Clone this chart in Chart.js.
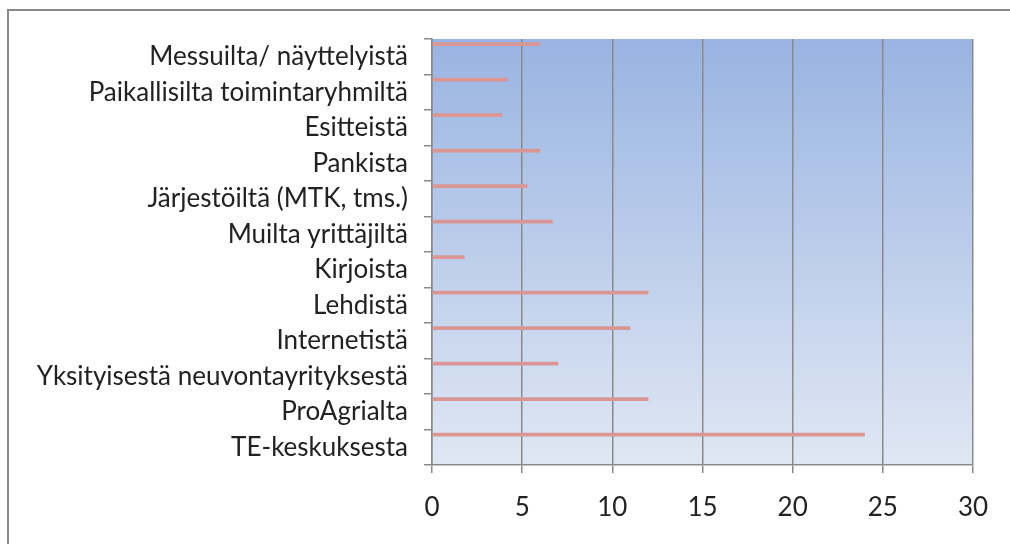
<!DOCTYPE html>
<html>
<head>
<meta charset="utf-8">
<script src="https://cdn.jsdelivr.net/npm/chart.js@4/dist/chart.umd.min.js"></script>
<style>
  html, body { margin: 0; padding: 0; background: #fff; overflow: hidden; }
  #wrap { position: relative; width: 1010px; height: 544px; }
  #frame { position: absolute; left: 7px; top: 9px; width: 1100px; height: 600px; border: 2px solid #8a8a8a; }
  #chart { position: absolute; left: 0; top: 0; }
</style>
</head>
<body>
<div id="wrap">
  <div id="frame"></div>
  <canvas id="chart" width="1010" height="544"></canvas>
</div>
<script>
const sources = [
  'Messuilta/ näyttelyistä',
  'Paikallisilta toimintaryhmiltä',
  'Esitteistä',
  'Pankista',
  'Järjestöiltä (MTK, tms.)',
  'Muilta yrittäjiltä',
  'Kirjoista',
  'Lehdistä',
  'Internetistä',
  'Yksityisestä neuvontayrityksestä',
  'ProAgrialta',
  'TE-keskuksesta'
];
const answers = [6, 4.2, 3.9, 6, 5.3, 6.7, 1.8, 12, 11, 7, 12, 24];
const xTicks = [0, 5, 10, 15, 20, 25, 30];

const gray = '#8a8a8a';
const font = { family: 'Lato', size: 26 };

const plotBackground = {
  id: 'plotBackground',
  beforeDraw(chart) {
    const { ctx, chartArea: a } = chart;
    const g = ctx.createLinearGradient(0, a.top, 0, a.bottom);
    g.addColorStop(0, '#99b4e2');
    g.addColorStop(1, '#e0e7f4');
    ctx.save();
    ctx.fillStyle = g;
    ctx.fillRect(a.left, a.top, a.right - a.left, a.bottom - a.top);
    ctx.restore();
  }
};

// the empty series only keep the bar in the top slot of each band, like the original
const spacer = { data: [], backgroundColor: 'rgba(0,0,0,0)' };

new Chart(document.getElementById('chart'), {
  type: 'bar',
  data: {
    labels: sources,
    datasets: [
      { data: answers, backgroundColor: '#d99694', borderWidth: 0 },
      spacer, { ...spacer }, { ...spacer }
    ]
  },
  options: {
    indexAxis: 'y',
    responsive: false,
    animation: false,
    categoryPercentage: 0.95,
    barPercentage: 0.43,
    layout: { padding: { top: 39, right: 37, left: 0, bottom: 0 } },
    plugins: {
      legend: { display: false },
      tooltip: { enabled: false }
    },
    scales: {
      x: {
        min: 0,
        max: 30,
        afterBuildTicks(scale) {
          scale.ticks = xTicks.map(v => ({ value: v }));
        },
        afterFit(scale) { scale.height = 79; },
        grid: { color: gray, lineWidth: 1.5, tickLength: 8 },
        border: { color: gray, width: 1.5 },
        ticks: { color: '#222', font: font, padding: 19, maxRotation: 0 }
      },
      y: {
        afterFit(scale) { scale.width = 432; },
        grid: { drawOnChartArea: false, color: gray, lineWidth: 1.5, tickLength: 8, offset: true },
        border: { color: gray, width: 1.5 },
        ticks: { color: '#222', font: font, padding: 16, autoSkip: false }
      }
    }
  },
  plugins: [plotBackground]
});
</script>
</body>
</html>
